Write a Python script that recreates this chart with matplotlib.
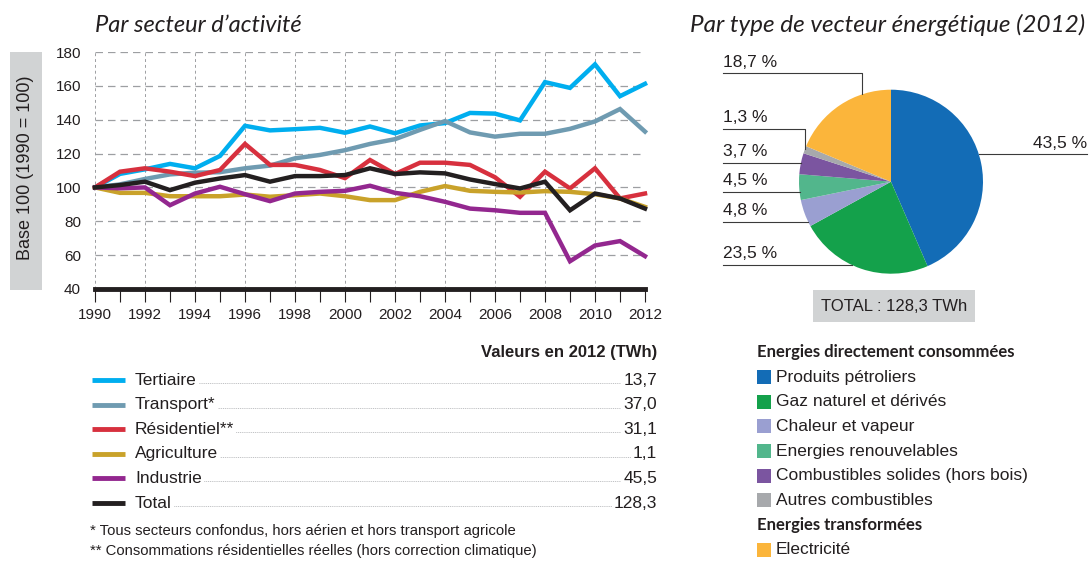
import numpy as np
import matplotlib
matplotlib.use("Agg")
import matplotlib.pyplot as plt
from matplotlib import font_manager
from matplotlib.patches import Rectangle

# ---- data ----
years = list(range(1990, 2013))
tertiaire = [100, 108, 110.7, 113.9, 111.3, 118.6, 136.4, 133.7, 134.4, 135.2, 132.3, 136,
             132, 136.6, 138, 144, 143.6, 139.6, 162.2, 158.8, 172.7, 153.9, 161.2]
transport = [100, 101.8, 105, 107.7, 108.7, 109, 111.3, 112.9, 117.2, 119.2, 122, 125.7,
             128.5, 134, 139.2, 132.5, 130, 131.7, 131.7, 134.6, 139, 146.3, 133]
residentiel = [100, 109.3, 111.3, 109.3, 106.7, 110.3, 125.7, 113.3, 113.3, 110.3, 105.5, 116.2,
               107.9, 114.6, 114.6, 113.3, 106, 94.5, 109.3, 99.4, 111.3, 93.5, 96.4]
agriculture = [100, 96.8, 96.8, 94.8, 94.8, 94.8, 95.8, 94.5, 95.4, 96.4, 94.8, 92.5,
               92.5, 97.4, 100.8, 98, 97.4, 97, 97.8, 97.4, 96, 93.5, 88.5]
industrie = [100, 99.5, 100, 89.5, 96.4, 100.4, 96, 91.9, 96.4, 97.4, 98, 101,
             96.8, 94.8, 91.5, 87.5, 86.5, 85, 85, 56.4, 65.7, 68.3, 59.4]
total = [100, 101.4, 103.4, 98.4, 102.8, 105.3, 107.3, 103.4, 106.7, 106.7, 107.3, 111.3,
         107.9, 108.9, 108.3, 104.7, 102, 99.4, 103.4, 86.5, 96.4, 93.5, 87.5]

sector_names = ["Tertiaire", "Transport*", "Résidentiel**", "Agriculture", "Industrie", "Total"]
sector_series = [tertiaire, transport, residentiel, agriculture, industrie, total]
sector_colors = ["#00aeef", "#6f9bb1", "#d7303e", "#c9a22a", "#93278f", "#231f20"]
values_2012 = ["13,7", "37,0", "31,1", "1,1", "45,5", "128,3"]

pie_shares = [43.5, 23.5, 4.8, 4.5, 3.7, 1.3, 18.7]
pie_names = ["Produits pétroliers", "Gaz naturel et dérivés", "Chaleur et vapeur",
             "Energies renouvelables", "Combustibles solides (hors bois)",
             "Autres combustibles", "Electricité"]
pie_colors = ["#136cb6", "#14a14b", "#9a9fd1", "#52b68c", "#7b55a0", "#a7a9ac", "#fbb53b"]

# ---- fonts ----
avail = {f.name for f in font_manager.fontManager.ttflist}
body = "Liberation Sans Narrow" if "Liberation Sans Narrow" in avail else "Liberation Sans"
plt.rcParams["font.family"] = [body, "DejaVu Sans"]
title_font = ["Lato", "DejaVu Sans"]
head_font = ["Lato", "DejaVu Sans"]
txt = "#231f20"

W, H = 1089, 561
fig = plt.figure(figsize=(W / 100, H / 100), dpi=100)

# overlay in pixel coordinates for free text / legends
ov = fig.add_axes([0, 0, 1, 1])
ov.set_xlim(0, W)
ov.set_ylim(H, 0)
ov.axis("off")
ov.patch.set_visible(False)


def px_axes(x0, y0, x1, y1):
    return fig.add_axes([x0 / W, 1 - y1 / H, (x1 - x0) / W, (y1 - y0) / H])


# ---- line chart ----
ax = px_axes(95, 52, 645, 289)
for name, s, c in zip(sector_names, sector_series, sector_colors):
    ax.plot(years, s, color=c, lw=3.2, solid_joinstyle="miter", clip_on=False, zorder=3)
ax.set_xlim(1990, 2012)
ax.set_ylim(40, 180)
ax.set_xticks(range(1990, 2013, 2))
ax.set_xticks(range(1990, 2013), minor=True)
ax.set_yticks(range(40, 181, 20))
ax.yaxis.grid(True, color="#9d9fa2", ls=(0, (6, 4)), lw=0.9)
ax.xaxis.grid(True, which="major", color="#9d9fa2", ls=(0, (3, 3)), lw=0.7)
for sp in ["top", "right", "left"]:
    ax.spines[sp].set_visible(False)
ax.spines["bottom"].set_linewidth(3.5)
ax.spines["bottom"].set_color(txt)
ax.spines["bottom"].set_zorder(4)
ax.tick_params(axis="x", which="both", length=9, width=0.8, color=txt, direction="out",
               labelsize=11, labelcolor=txt, pad=5)
ax.tick_params(axis="y", length=0, labelsize=11, labelcolor=txt, pad=10)

# y-label box
ov.add_patch(Rectangle((10, 52), 32, 238, color="#d1d3d4", lw=0))
ov.text(26, 168, "Base 100 (1990 = 100)", rotation=90, ha="center", va="center",
        fontsize=13, color=txt)

ov.text(95, 25, "Par secteur d’activité", fontsize=17, style="italic", family=title_font,
        ha="left", va="center", color=txt)
ov.text(1085, 25, "Par type de vecteur énergétique (2012)", fontsize=17.5, style="italic",
        family=title_font, ha="right", va="center", color=txt)

# line legend
ov.text(657, 352, "Valeurs en 2012 (TWh)", fontsize=12, weight="bold", ha="right",
        va="center", color=txt)
for i, (name, c, v) in enumerate(zip(sector_names, sector_colors, values_2012)):
    y = 380 + i * 24.6
    ov.plot([92, 125], [y, y], color=c, lw=3.5, solid_capstyle="butt")
    ov.plot([140, 650], [y + 3, y + 3], color="#a7a9ac", lw=0.5, ls=(0, (1.5, 1.2)))
    ov.text(135, y, name, fontsize=12.5, ha="left", va="center", color=txt,
            bbox=dict(facecolor="white", edgecolor="none", pad=1.5))
    ov.text(657, y, v, fontsize=12.5, ha="right", va="center", color=txt,
            bbox=dict(facecolor="white", edgecolor="none", pad=1.5))
ov.text(90, 531, "* Tous secteurs confondus, hors aérien et hors transport agricole",
        fontsize=10.7, ha="left", va="center", color=txt)
ov.text(90, 551, "** Consommations résidentielles réelles (hors correction climatique)",
        fontsize=10.7, ha="left", va="center", color=txt)

# ---- pie ----
cx, cy, r = 891, 181.7, 92
axp = px_axes(cx - r, cy - r, cx + r, cy + r)
axp.pie(pie_shares, colors=pie_colors, startangle=90, counterclock=False,
        wedgeprops=dict(linewidth=0))
axp.set_xlim(-1, 1)
axp.set_ylim(-1, 1)
axp.set_aspect("equal")

lead = "#3a3a3a"
lx = (723 - cx) / r
# labels: (share index, line y in px, drop x in px or None)
pie_label_layout = [(6, 73.3, 862), (5, 129, 805), (4, 162.7, None), (3, 191.7, None),
                    (2, 221.7, None), (1, 265, None)]
for idx, ypx, xdrop in pie_label_layout:
    ly = (cy - ypx) / r
    lab = f"{pie_shares[idx]:.1f} %".replace(".", ",")
    if xdrop is None:
        xe = -np.sqrt(max(0, 1 - ly ** 2))
        axp.plot([lx, xe], [ly, ly], color=lead, lw=0.8, clip_on=False)
    else:
        xd = (xdrop - cx) / r
        ye = np.sqrt(1 - xd ** 2)
        axp.plot([lx, xd, xd], [ly, ly, ye], color=lead, lw=0.8, clip_on=False)
    axp.text(lx, ly + 0.04, lab, ha="left", va="bottom", fontsize=12.5, color=txt, clip_on=False)

# right label (largest share)
ly = (cy - 154.3) / r
xe = np.sqrt(1 - ly ** 2)
rx = (1087 - cx) / r
axp.plot([xe, rx], [ly, ly], color=lead, lw=0.8, clip_on=False)
axp.text(rx, ly + 0.04, f"{pie_shares[0]:.1f} %".replace(".", ","), ha="right", va="bottom",
         fontsize=12.5, color=txt, clip_on=False)

ov.text(894, 306, "TOTAL : 128,3 TWh", fontsize=12, ha="center", va="center", color=txt,
        bbox=dict(facecolor="#d1d3d4", edgecolor="none", pad=6))

# pie legend
ov.text(757, 352, "Energies directement consommées", fontsize=12, weight="bold",
        family=head_font, ha="left", va="center", color=txt)
rows = [377, 401.5, 426, 451, 475.5, 500, 550]
for yy, name, c in zip(rows, pie_names, pie_colors):
    ov.add_patch(Rectangle((757, yy - 7), 14, 14, color=c, lw=0))
    ov.text(776, yy, name, fontsize=12.5, ha="left", va="center", color=txt)
ov.text(757, 525, "Energies transformées", fontsize=12, weight="bold",
        family=head_font, ha="left", va="center", color=txt)

fig.savefig("out.png", dpi=100)
